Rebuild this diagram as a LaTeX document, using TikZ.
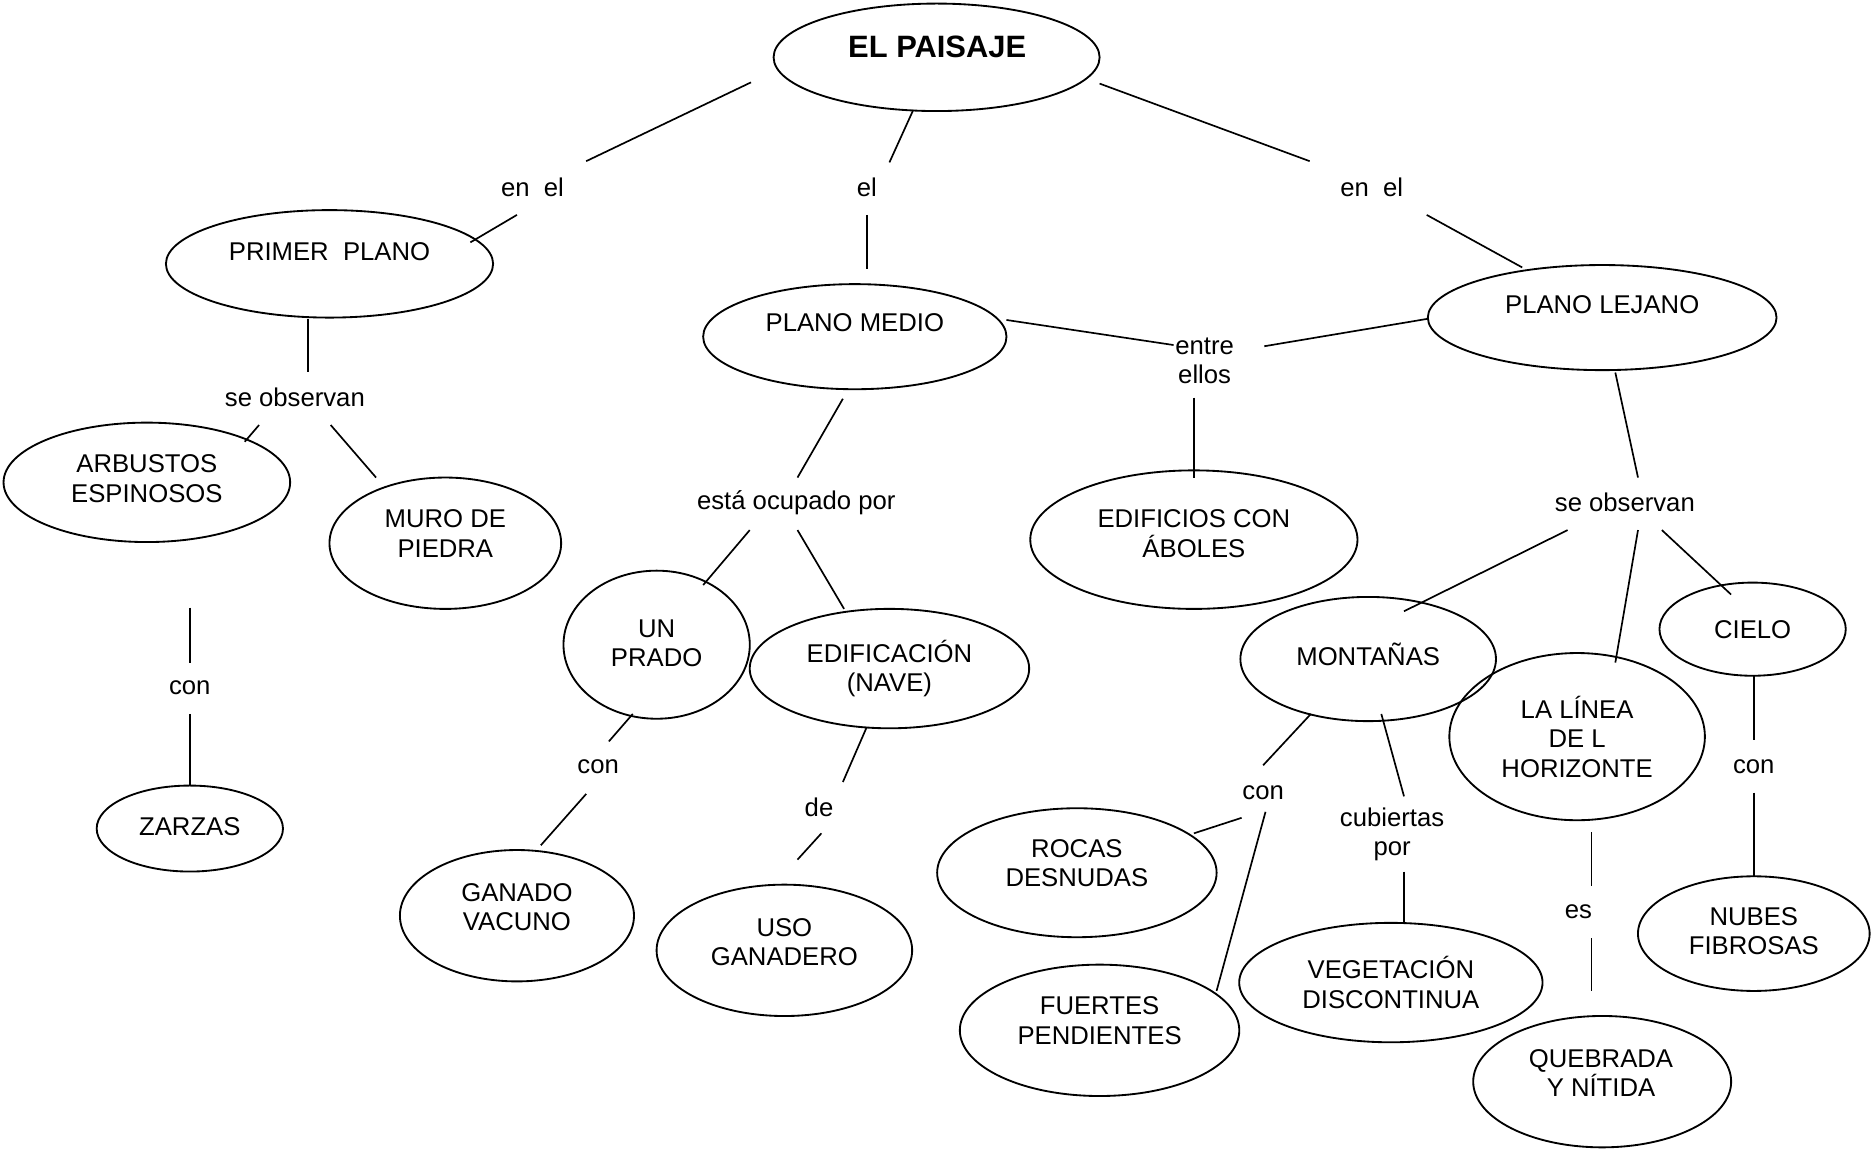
\documentclass[tikz,border=0pt]{standalone}
\usepackage{fontspec}
\setmainfont{Liberation Sans}
\usetikzlibrary{shapes.geometric}
\tikzset{
  ell/.style n args={2}{draw, ellipse, line width=1.1pt, inner sep=0pt,
    minimum width=#1*0.05cm, minimum height=#2*0.05cm},
  txt/.style={align=center, inner sep=0pt, font=\fontsize{15.3}{17.5}\selectfont},
  ttl/.style={inner sep=0pt, font=\fontsize{18.4}{22}\selectfont\bfseries},
  link/.style={line width=1pt},
}
\begin{document}
\begin{tikzpicture}[x=0.025cm, y=-0.025cm]
\fill[white] (0,0) rectangle (1568,962);
\useasboundingbox (0,0) rectangle (1568,962);

% ---------- ellipses ----------
\node[ell={136.5}{45}] (paisaje) at (784.5,48) {};
\node[ttl] (paisajeT) at (785,39) {EL PAISAJE};

\node[ell={137}{45}] (primer) at (276,221) {};
\node[txt] (primerT) at (276,211) {PRIMER\ \ PLANO};

\node[ell={127}{44}] (medio) at (716,282) {};
\node[txt] (medioT) at (716,270) {PLANO MEDIO};

\node[ell={146}{44}] (lejano) at (1342,266) {};
\node[txt] (lejanoT) at (1342,255) {PLANO LEJANO};

\node[ell={120}{50}] (arbustos) at (123,404) {};
\node[txt] (arbustosT) at (123,401) {ARBUSTOS\\ESPINOSOS};

\node[ell={97}{55}] (muro) at (373,455) {};
\node[txt] (muroT) at (373,447) {MURO DE\\PIEDRA};

\node[ell={137}{58}] (edificios) at (1000,452) {};
\node[txt] (edificiosT) at (1000,447) {EDIFICIOS CON\\ÁBOLES};

\node[ell={78}{62}] (prado) at (550,540) {};
\node[txt] (pradoT) at (550,539) {UN\\PRADO};

\node[ell={117}{50}] (edificacion) at (745,560) {};
\node[txt] (edificacionT) at (745,560) {EDIFICACIÓN\\(NAVE)};

\node[ell={78}{36}] (zarzas) at (159,694) {};
\node[txt] (zarzasT) at (159,692) {ZARZAS};

\node[ell={98}{55}] (ganado) at (433,767) {};
\node[txt] (ganadoT) at (433,760) {GANADO\\VACUNO};

\node[ell={107}{55}] (uso) at (657,796) {};
\node[txt] (usoT) at (657,789) {USO\\GANADERO};

\node[ell={107}{52}] (montanas) at (1146,552) {};
\node[txt] (montanasT) at (1146,548) {MONTAÑAS};

\node[ell={107}{70}] (linea) at (1321,617) {};
\node[txt] (lineaT) at (1321,617) {LA LÍNEA\\DE L\\HORIZONTE};

\node[ell={78}{39}] (cielo) at (1468,527) {};
\node[txt] (cieloT) at (1468,527) {CIELO};

\node[ell={117}{54}] (rocas) at (902,731) {};
\node[txt] (rocasT) at (902,723) {ROCAS\\DESNUDAS};

\node[ell={117}{55}] (fuertes) at (921,863) {};
\node[txt] (fuertesT) at (921,855) {FUERTES\\PENDIENTES};

\node[ell={127}{50}] (vegetacion) at (1165,823) {};
\node[txt] (vegetacionT) at (1165,823) {VEGETACIÓN\\DISCONTINUA};

\node[ell={108}{55}] (quebrada) at (1342,906) {};
\node[txt] (quebradaT) at (1341,899) {QUEBRADA\\Y NÍTIDA};

\node[ell={97}{48}] (nubes) at (1469,782) {};
\node[txt] (nubesT) at (1469,780) {NUBES\\FIBROSAS};

% ---------- linking words ----------
\node[txt] (enel1) at (446,157) {en\ \ el};
\node[txt] (el) at (726,157) {el};
\node[txt] (enel2) at (1149,157) {en\ \ el};
\node[txt] (seobs1) at (247,333) {se observan};
\node[txt] (entre) at (1009,302) {entre\\ellos};
\node[txt] (ocupado) at (667,421) {está ocupado por};
\node[txt] (seobs2) at (1361,421) {se observan};
\node[txt] (con1) at (159,576) {con};
\node[txt] (con2) at (501,642) {con};
\node[txt] (de) at (686,676) {de};
\node[txt] (con3) at (1058,664) {con};
\node[txt] (cubiertas) at (1166,699) {cubiertas\\por};
\node[txt] (es) at (1322,764) {es};
\node[txt] (con4) at (1469,642) {con};

% ---------- connector end points ----------
\coordinate (p1a) at (629,69);   \coordinate (p1b) at (491,135);
\coordinate (p2a) at (433,180);  \coordinate (p2b) at (394,203);
\coordinate (p3a) at (765,92);   \coordinate (p3b) at (745,136);
\coordinate (p4a) at (726,180);  \coordinate (p4b) at (726,225);
\coordinate (p5a) at (921,70);   \coordinate (p5b) at (1097,135);
\coordinate (p6a) at (1195,180); \coordinate (p6b) at (1275,224);
\coordinate (p7a) at (258,267);  \coordinate (p7b) at (258,312);
\coordinate (p8a) at (217,356);  \coordinate (p8b) at (205,370);
\coordinate (p9a) at (277,356);  \coordinate (p9b) at (315,400);
\coordinate (q1a) at (843,268);  \coordinate (q1b) at (983,289);
\coordinate (q2a) at (1059,290); \coordinate (q2b) at (1196,267);
\coordinate (q3a) at (1000,333); \coordinate (q3b) at (1000,400);
\coordinate (q4a) at (706,334);  \coordinate (q4b) at (668,400);
\coordinate (q5a) at (628,444);  \coordinate (q5b) at (589,490);
\coordinate (q6a) at (668,444);  \coordinate (q6b) at (707,510);
\coordinate (r1a) at (159,509);  \coordinate (r1b) at (159,555);
\coordinate (r2a) at (159,598);  \coordinate (r2b) at (159,658);
\coordinate (r3a) at (530,598);  \coordinate (r3b) at (510,621);
\coordinate (r4a) at (491,665);  \coordinate (r4b) at (453,708);
\coordinate (r5a) at (726,609);  \coordinate (r5b) at (706,655);
\coordinate (r6a) at (688,698);  \coordinate (r6b) at (668,720);
\coordinate (s1a) at (1353,312); \coordinate (s1b) at (1372,400);
\coordinate (s2a) at (1313,444); \coordinate (s2b) at (1176,512);
\coordinate (s3a) at (1372,444); \coordinate (s3b) at (1353,555);
\coordinate (s4a) at (1392,444); \coordinate (s4b) at (1450,498);
\coordinate (t1a) at (1098,598); \coordinate (t1b) at (1058,641);
\coordinate (t2a) at (1040,685); \coordinate (t2b) at (1000,698);
\coordinate (t3a) at (1060,680); \coordinate (t3b) at (1019,830);
\coordinate (t4a) at (1157,598); \coordinate (t4b) at (1176,667);
\coordinate (t5a) at (1176,730); \coordinate (t5b) at (1176,774);
\coordinate (u1a) at (1333,697); \coordinate (u1b) at (1333,742);
\coordinate (u2a) at (1333,786); \coordinate (u2b) at (1333,830);
\coordinate (u3a) at (1469,566); \coordinate (u3b) at (1469,620);
\coordinate (u4a) at (1469,664); \coordinate (u4b) at (1469,734);

% ---------- connectors ----------
\foreach \c in {p1,p2,p3,p4,p5,p6,p7,p8,p9,q1,q2,q3,q4,q5,q6,
                r1,r2,r3,r4,r5,r6,s1,s2,s3,s4,t1,t2,t3,t4,t5,u1,u2,u3,u4}
  \draw[link] (\c a) -- (\c b);
\end{tikzpicture}
\end{document}
